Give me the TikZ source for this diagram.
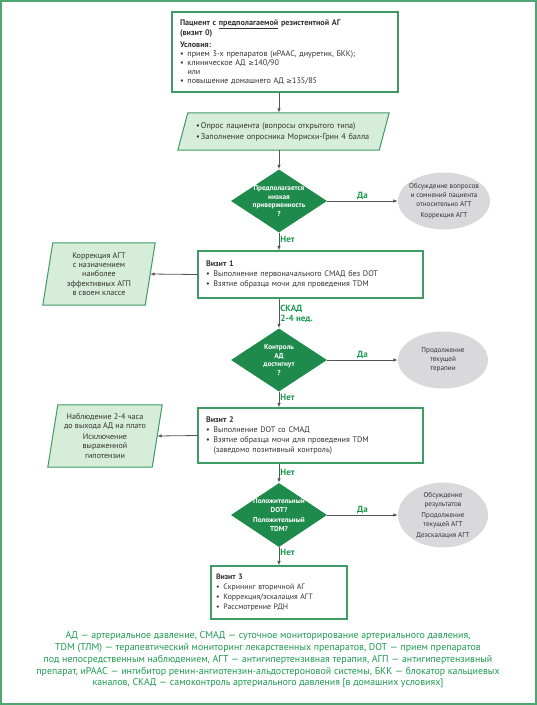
\documentclass[tikz,border=0pt]{standalone}
\usepackage{fontspec}
\setmainfont{PT Sans}
\newfontfamily\dvfont[Scale=0.85]{DejaVu Sans}
\usetikzlibrary{shapes.geometric,arrows.meta,backgrounds}
\definecolor{frameg}{HTML}{4FA673}
\definecolor{boxg}{HTML}{3E9B63}
\definecolor{dg}{HTML}{1E8A4C}
\definecolor{lg}{HTML}{D6EDDA}
\definecolor{eg}{HTML}{D9D9DB}
\definecolor{tx}{HTML}{333333}
\definecolor{lab}{HTML}{1C9A50}
\definecolor{ar}{HTML}{555555}
\newcommand\bitem[1]{\makebox[7.5pt][l]{\textbullet}#1}
\newcommand\gesym{{\dvfont ≥}}
\begin{document}
\begin{tikzpicture}[x=1pt,y=-1pt,
  box/.style={draw=boxg,line width=1.1pt,fill=white,rectangle,text=tx,
    font=\fontsize{8.1}{9}\selectfont,align=left,inner ysep=0pt},
  para/.style={rectangle,draw=none,text=tx,inner ysep=0pt},
  dia/.style={diamond,fill=dg,draw=none,inner sep=0pt},
  dtext/.style={text=white,font=\bfseries\fontsize{7.2}{8.7}\selectfont,align=center},
  ell/.style={ellipse,fill=eg,draw=none,inner sep=0pt},
  etext/.style={text=tx,font=\fontsize{7.1}{9.2}\selectfont,align=center},
  arr/.style={draw=ar,line width=0.8pt,-{Latex[length=4.5pt,width=3.5pt]}},
  lbl/.style={text=lab,font=\bfseries\fontsize{9}{10}\selectfont,inner sep=1pt}
]
\useasboundingbox (0,0) rectangle (537,705);
\draw[frameg,line width=2pt] (1,1) rectangle (536,704);

% top box
\node[box,minimum width=226pt,minimum height=80pt,text width=210pt,inner xsep=8pt] (top) at (285,52)
{\textbf{Пациент с \underline{предполагаемой} резистентной АГ}\\
 \textbf{(визит 0)}\\[2.5pt]
 \textbf{Условия:}\\
 \bitem{прием 3-х препаратов (иРААС, диуретик, БКК);}\\
 \bitem{клиническое АД \gesym140/90}\\
 \hspace*{7.5pt}или\\
 \bitem{повышение домашнего АД \gesym135/85}};

% questionnaire parallelogram
\node[para,minimum width=201pt,minimum height=37pt,text width=175pt,inner xsep=13pt,
  align=left,font=\fontsize{8.2}{11}\selectfont] (q1) at (283.5,131.5)
{\makebox[5pt][l]{\textbullet}Опрос пациента (вопросы открытого типа)\\
 \makebox[5pt][l]{\textbullet}Заполнение опросника Мориски-Грин 4 балла};

% diamonds
\node[dia,minimum width=96pt,minimum height=63pt,
  label={[dtext]center:Предполагается\\низкая\\приверженность\\?}] (d1) at (279,201) {};
\node[dia,minimum width=96pt,minimum height=63pt,
  label={[dtext]center:Контроль\\АД\\достигнут\\?}] (d2) at (279,360) {};
\node[dia,minimum width=96pt,minimum height=64pt,
  label={[dtext]center:Положительный\\DOT?\\[1pt]Положительный\\TDM?}] (d3) at (279,515) {};

% ellipses
\node[ell,minimum width=92pt,minimum height=57pt,
  label={[etext]center:Обсуждение вопросов\\и сомнений пациента\\относительно АГТ\\[1.5pt]Коррекция АГТ}] (e1) at (444,201) {};
\node[ell,minimum width=90pt,minimum height=57pt,
  label={[etext]center:Продолжение\\текущей\\терапии}] (e2) at (443,360) {};
\node[ell,minimum width=90pt,minimum height=65pt,
  label={[etext]center:Обсуждение\\результатов\\[1.5pt]Продолжение\\текущей АГТ\\[1.5pt]Деэскалация АГТ}] (e3) at (443,515) {};

% visit boxes
\node[box,minimum width=225pt,minimum height=47pt,text width=209pt,inner xsep=8pt,
  font=\fontsize{8.1}{10}\selectfont] (v1) at (310.5,274.5)
{\textbf{Визит 1}\\
 \bitem{Выполнение первоначального СМАД без DOT}\\
 \bitem{Взятие образца мочи для проведения TDM}};
\node[box,minimum width=225pt,minimum height=55pt,text width=209pt,inner xsep=8pt,
  font=\fontsize{8.1}{10}\selectfont] (v2) at (310.5,435.5)
{\textbf{Визит 2}\\
 \bitem{Выполнение DOT со СМАД}\\
 \bitem{Взятие образца мочи для проведения TDM}\\
 \hspace*{7.5pt}(заведомо позитивный контроль)};
\node[box,minimum width=136pt,minimum height=53pt,text width=126pt,inner xsep=5pt,
  font=\fontsize{7.8}{10}\selectfont] (v3) at (279,592.5)
{\textbf{Визит 3}\\
 \bitem{Скрининг вторичной АГ}\\
 \bitem{Коррекция/эскалация АГТ}\\
 \bitem{Рассмотрение РДН}};

% left parallelograms
\node[para,minimum width=102pt,minimum height=62pt,align=center,
  font=\fontsize{8.1}{9.4}\selectfont] (l1) at (99,274)
{Коррекция АГТ\\с назначением\\наиболее\\эффективных АГП\\в своем классе};
\node[para,minimum width=104pt,minimum height=62pt,align=center,
  font=\fontsize{8.1}{9.4}\selectfont] (l2) at (105,436)
{Наблюдение 2-4 часа\\до выхода АД на плато\\[1pt]Исключение\\выраженной\\гипотензии};

\begin{scope}[on background layer]
\foreach \p/\s in {q1/5,l1/5,l2/5}{
  \filldraw[fill=lg,draw=boxg,line width=1pt]
    ([xshift=\s pt]\p.north west) -- ([xshift=\s pt]\p.north east) --
    ([xshift=-\s pt]\p.south east) -- ([xshift=-\s pt]\p.south west) -- cycle;
}
\end{scope}

% connectors
\draw[arr] (top.south -| d1.north) -- (q1.north -| d1.north);
\draw[arr] (q1.south -| d1.north) -- (d1.north);
\draw[arr] (d1.east) -- node[lbl,above,pos=0.5]{Да} (e1.west);
\draw[arr] (d1.south) -- node[lbl,right,pos=0.35]{Нет} (v1.north -| d1.south);
\draw[arr] (v1.west) -- (l1.east);
\draw[arr] (v1.south -| d2.north) -- node[lbl,right,pos=0.5,align=left,font=\bfseries\fontsize{9}{10}\selectfont]{СКАД\\2-4 нед.} (d2.north);
\draw[arr] (d2.east) -- node[lbl,above,pos=0.5]{Да} (e2.west);
\draw[arr] (d2.south) -- node[lbl,right,pos=0.35]{Нет} (v2.north -| d2.south);
\draw[arr] (v2.west) -- (l2.east);
\draw[arr] (v2.south -| d3.north) -- node[lbl,right,pos=0.45]{Нет} (d3.north);
\draw[arr] (d3.east) -- node[lbl,above,pos=0.5]{Да} (e3.west);
\draw[arr] (d3.south) -- node[lbl,right,pos=0.3]{Нет} (v3.north);

% footnote
\node[text=lab,align=center,font=\fontsize{9.9}{11.8}\selectfont] (foot) at (268,660)
{АД — артериальное давление, СМАД — суточное мониторирование артериального давления,\\
TDM (ТЛМ) — терапевтический мониторинг лекарственных препаратов, DOT — прием препаратов\\
под непосредственным наблюдением, АГТ — антигипертензивная терапия, АГП — антигипертензивный\\
препарат, иРААС — ингибитор ренин-ангиотензин-альдостероновой системы, БКК — блокатор кальциевых\\
каналов, СКАД — самоконтроль артериального давления [в домашних условиях]};
\end{tikzpicture}
\end{document}
